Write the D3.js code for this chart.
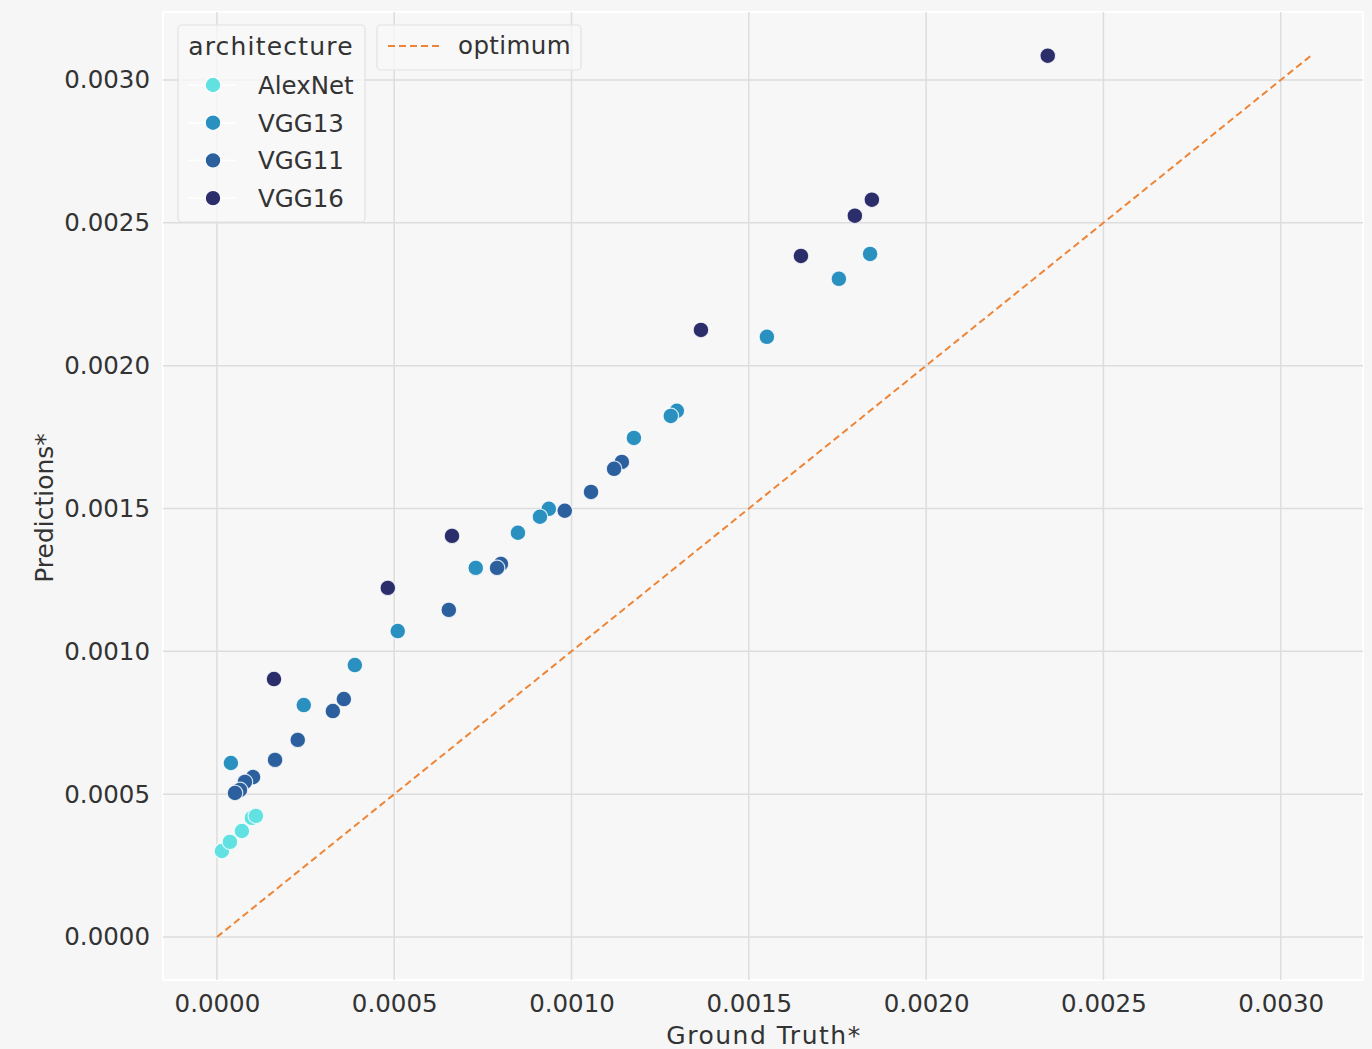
<!DOCTYPE html>
<html>
<head>
<meta charset="utf-8">
<script src="https://cdn.jsdelivr.net/npm/d3@7"></script>
<style>
  body { margin: 0; background: #f6f6f6; }
  svg { display: block; font-family: "DejaVu Sans", sans-serif; }
</style>
</head>
<body>
<script>
// data
var architectures = ["AlexNet", "VGG13", "VGG11", "VGG16"];
var colors = ["#62e1e3", "#2a90c0", "#2b5f9d", "#2c2e6b"];

var alexnetTruth = [0.0000141, 0.0000367, 0.0000705, 0.0000987, 0.000110];
var alexnetPred  = [0.000301, 0.000333, 0.000371, 0.000417, 0.000424];

var vgg13Truth = [0.001842, 0.001754, 0.001551, 0.001297, 0.001280, 0.001176, 0.000936, 0.000911, 0.000849, 0.000730, 0.000510, 0.000389, 0.000245, 0.0000395];
var vgg13Pred  = [0.002391, 0.002304, 0.002101, 0.001842, 0.001824, 0.001747, 0.001499, 0.001471, 0.001415, 0.001292, 0.001071, 0.000952, 0.000812, 0.000609];

var vgg11Truth = [0.001142, 0.001120, 0.001055, 0.000981, 0.000801, 0.000790, 0.000654, 0.000358, 0.000327, 0.000228, 0.000164, 0.000102, 0.000079, 0.000065, 0.000051];
var vgg11Pred  = [0.001663, 0.001639, 0.001558, 0.001492, 0.001306, 0.001292, 0.001145, 0.000833, 0.000791, 0.000690, 0.000620, 0.000560, 0.000543, 0.000515, 0.000504];

var vgg16Truth = [0.002343, 0.001847, 0.001799, 0.001647, 0.001365, 0.000663, 0.000482, 0.000161];
var vgg16Pred  = [0.003085, 0.002581, 0.002525, 0.002384, 0.002125, 0.001404, 0.001222, 0.000903];

var optimumMax = 0.00309;
var tickValues = [0, 0.0005, 0.001, 0.0015, 0.002, 0.0025, 0.003];

var seriesTruth = [alexnetTruth, vgg13Truth, vgg11Truth, vgg16Truth];
var seriesPred = [alexnetPred, vgg13Pred, vgg11Pred, vgg16Pred];

var width = 1372, height = 1049;
var plot = {left: 163, right: 1363, top: 12, bottom: 980};

var x = d3.scaleLinear().domain([-0.000152, 0.003232]).range([plot.left, plot.right]);
var y = d3.scaleLinear().domain([-0.0001505, 0.003238]).range([plot.bottom, plot.top]);

var svg = d3.select("body").append("svg")
  .attr("width", width)
  .attr("height", height);

svg.append("rect")
  .attr("x", plot.left).attr("y", plot.top)
  .attr("width", plot.right - plot.left).attr("height", plot.bottom - plot.top)
  .attr("fill", "#f7f7f7")
  .attr("stroke", "#ffffff")
  .attr("stroke-width", 2);

// grid
var grid = svg.append("g").attr("stroke", "#dddddd").attr("stroke-width", 1.5);
grid.selectAll("line.gx").data(tickValues).enter().append("line")
  .attr("x1", d => x(d)).attr("x2", d => x(d))
  .attr("y1", plot.top).attr("y2", plot.bottom);
grid.selectAll("line.gy").data(tickValues).enter().append("line")
  .attr("y1", d => y(d)).attr("y2", d => y(d))
  .attr("x1", plot.left).attr("x2", plot.right);

// axes
var fmt = d3.format(".4f");
var xAxis = d3.axisBottom(x).tickValues(tickValues).tickFormat(fmt).tickSize(0).tickPadding(15);
var yAxis = d3.axisLeft(y).tickValues(tickValues).tickFormat(fmt).tickSize(0).tickPadding(13);

svg.append("g")
  .attr("transform", "translate(0," + plot.bottom + ")")
  .call(xAxis)
  .call(g => g.select(".domain").remove())
  .selectAll("text")
  .attr("font-size", 24.5).attr("fill", "#333333").attr("font-family", "DejaVu Sans");

svg.append("g")
  .attr("transform", "translate(" + plot.left + ",0)")
  .call(yAxis)
  .call(g => g.select(".domain").remove())
  .selectAll("text")
  .attr("font-size", 24.5).attr("fill", "#333333").attr("font-family", "DejaVu Sans");

svg.append("text")
  .attr("x", 764)
  .attr("y", 1044)
  .attr("text-anchor", "middle")
  .attr("font-size", 25).attr("letter-spacing", 1.5).attr("fill", "#333333")
  .text("Ground Truth*");

svg.append("text")
  .attr("transform", "translate(53," + ((plot.top + plot.bottom) / 2 + 12) + ") rotate(-90)")
  .attr("text-anchor", "middle")
  .attr("font-size", 25).attr("fill", "#333333")
  .text("Predictions*");

// optimum line
svg.append("line")
  .attr("x1", x(0)).attr("y1", y(0))
  .attr("x2", x(optimumMax)).attr("y2", y(optimumMax))
  .attr("stroke", "#ee8536")
  .attr("stroke-width", 2)
  .attr("stroke-dasharray", "7,4");

// points
architectures.forEach(function(name, i) {
  var pts = seriesTruth[i].map((t, j) => ({t: t, p: seriesPred[i][j]}));
  svg.append("g").selectAll("circle").data(pts).enter().append("circle")
    .attr("cx", d => x(d.t))
    .attr("cy", d => y(d.p))
    .attr("r", 7.8)
    .attr("fill", colors[i])
    .attr("stroke", "#ffffff")
    .attr("stroke-opacity", 0.8)
    .attr("stroke-width", 1.2);
});

// legend: architecture
var leg = svg.append("g");
leg.append("rect")
  .attr("x", 178).attr("y", 25).attr("width", 187).attr("height", 197)
  .attr("rx", 4)
  .attr("fill", "#f7f7f7").attr("fill-opacity", 0.8)
  .attr("stroke", "#e2e2e2").attr("stroke-width", 1.2);
leg.append("text")
  .attr("x", 271).attr("y", 55)
  .attr("text-anchor", "middle")
  .attr("font-size", 25).attr("letter-spacing", 1.2).attr("fill", "#333333")
  .text("architecture");
var items = leg.selectAll("g.item").data(architectures).enter().append("g")
  .attr("transform", (d, i) => "translate(0," + (85 + i * 37.7) + ")");
items.append("line")
  .attr("x1", 188).attr("x2", 236)
  .attr("stroke", "#ffffff").attr("stroke-width", 1.5);
items.append("circle")
  .attr("cx", 213).attr("r", 7.8)
  .attr("fill", (d, i) => colors[i])
  .attr("stroke", "#ffffff").attr("stroke-width", 1.2);
items.append("text")
  .attr("x", 258).attr("y", 9)
  .attr("font-size", 24.5).attr("fill", "#333333")
  .text(d => d);

// legend: optimum
var leg2 = svg.append("g");
leg2.append("rect")
  .attr("x", 377).attr("y", 25).attr("width", 204).attr("height", 45)
  .attr("rx", 4)
  .attr("fill", "#f7f7f7").attr("fill-opacity", 0.8)
  .attr("stroke", "#e2e2e2").attr("stroke-width", 1.2);
leg2.append("line")
  .attr("x1", 388).attr("x2", 440).attr("y1", 46).attr("y2", 46)
  .attr("stroke", "#ee8536").attr("stroke-width", 2).attr("stroke-dasharray", "7,4");
leg2.append("text")
  .attr("x", 458).attr("y", 54)
  .attr("font-size", 24.5).attr("letter-spacing", 0.4).attr("fill", "#333333")
  .text("optimum");
</script>
</body>
</html>
